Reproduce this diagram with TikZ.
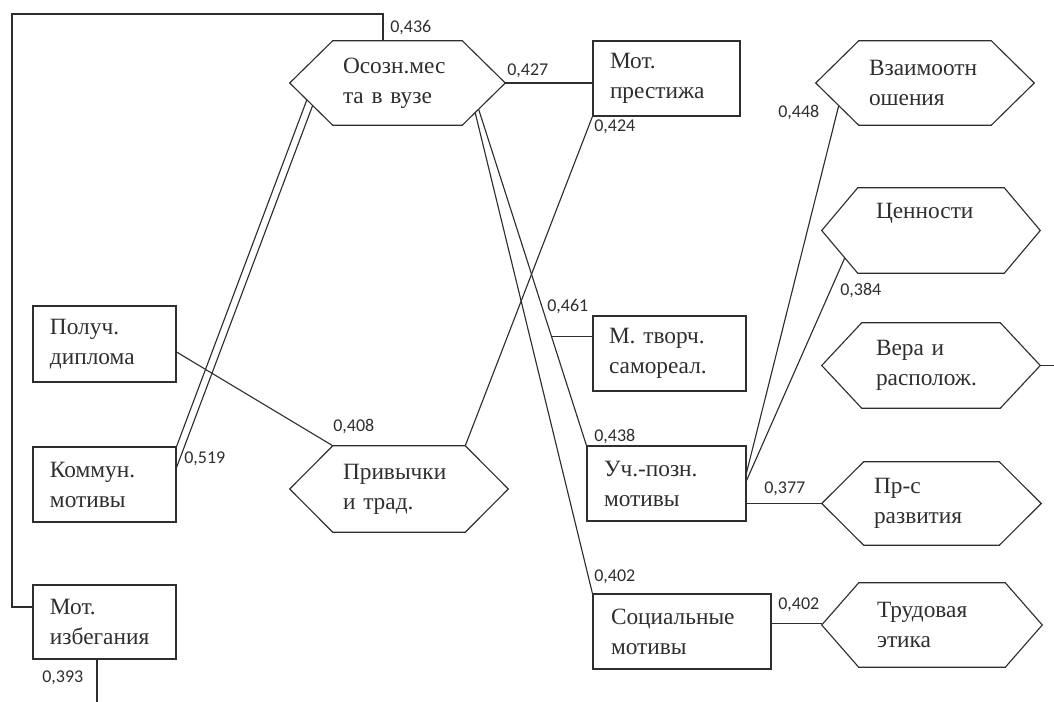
\documentclass[tikz,border=0pt]{standalone}
\usepackage{fontspec}
\setmainfont{Liberation Serif}
\newfontfamily\lblfont{Carlito}
\usetikzlibrary{calc}
\definecolor{ink}{gray}{0.18}

% Elongated hexagon drawn around an (invisible) bounding node;
% #1 = node name, #2 = horizontal inset of the slanted sides.
% Corner coordinates are named <node>-nw, -ne, -se, -sw.
\newcommand\hexpath[2]{%
  \draw[conn] ($(#1.north west)+(#2,0)$) coordinate (#1-nw)
    -- ($(#1.north east)+(-#2,0)$) coordinate (#1-ne)
    -- (#1.east)
    -- ($(#1.south east)+(-#2,0)$) coordinate (#1-se)
    -- ($(#1.south west)+(#2,0)$) coordinate (#1-sw)
    -- (#1.west) -- cycle;}

\begin{document}
\begin{tikzpicture}[x=0.75pt,y=-0.75pt,
  every node/.style={text=ink},
  conn/.style={draw=ink, line width=0.85pt, line join=miter},
  shapetext/.style={font=\fontsize{17.5}{22.5}\selectfont, align=left, inner sep=0pt},
  rbox/.style n args={3}{shapetext, draw=ink, line width=0.85pt, rectangle,
    minimum width=#1, minimum height=#2, text width=#3},
  hbox/.style n args={3}{shapetext, rectangle,
    minimum width=#1, minimum height=#2, text width=#3},
  lbl/.style={font=\lblfont\fontsize{13.5}{16}\selectfont, anchor=west, inner sep=0pt},
]
\useasboundingbox (0,0) rectangle (1054,702);

% ---- rectangles ----
\node[rbox={107.25pt}{57pt}{81.75pt}]     (poluch) at (104.5,344)   {Получ.\\диплома};
\node[rbox={107.25pt}{56.25pt}{81.75pt}]  (komm)   at (104.5,484.5) {Коммун.\\мотивы};
\node[rbox={107.25pt}{55.5pt}{81.75pt}]   (izbeg)  at (104.5,622)   {Мот.\\избегания};
\node[rbox={110.25pt}{56.25pt}{84.75pt}]  (prest)  at (666.5,78.5)  {Мот.\\престижа};
\node[rbox={114.75pt}{56.25pt}{90.75pt}]  (tvor)   at (669.5,353.5) {М. творч.\\самореал.};
\node[rbox={119.25pt}{56.25pt}{93.75pt}]  (uch)    at (666.5,483.5) {Уч.-позн.\\мотивы};
\node[rbox={133.5pt}{56.25pt}{106.5pt}]   (soc)    at (682,631.5)   {Социальные\\мотивы};

% ---- hexagons ----
\node[hbox={161.25pt}{63pt}{81.75pt}]   (osozn)   at (397.5,83)   {Осозн.мес\\та в вузе};
\node[hbox={163.5pt}{64.5pt}{84pt}]     (privych) at (399,489)    {Привычки\\и трад.};
\node[hbox={163.5pt}{63pt}{84pt}]       (vzaim)   at (925,83)     {Взаимоотн\\ошения};
\node[hbox={163.5pt}{63.75pt}{82.5pt}]  (tsen)    at (931,230.5)  {Ценности\\\strut};
\node[hbox={163.5pt}{63.75pt}{82.5pt}]  (vera)    at (931,365.5)  {Вера и\\располож.};
\node[hbox={164.25pt}{62.25pt}{86.25pt}] (razv)   at (931.5,503.5) {Пр-с\\развития};
\node[hbox={165pt}{63pt}{82.5pt}]       (trud)    at (932,625)    {Трудовая\\этика};

\hexpath{osozn}{43}
\hexpath{privych}{43}
\hexpath{vzaim}{43}
\hexpath{tsen}{36}
\hexpath{vera}{40}
\hexpath{razv}{42}
\hexpath{trud}{37}

% ---- free ends ----
\coordinate (loopTL) at (12,14);
\coordinate (loopTR) at (383,14);
\coordinate (veraout) at (1054,365.5);
\coordinate (izbout) at (97,702);

% ---- connectors ----
\draw[conn] ($(izbeg.west)+(0,-15)$) -| (loopTL) -- (loopTR) -- (loopTR |- osozn.north);
\draw[conn] (osozn.east) -- (osozn.east -| prest.west);
\draw[conn] (komm.north east) -- ($(osozn.west)!0.398!(osozn-sw)$);
\draw[conn] ($(komm.north east)+(0,21)$) -- ($(osozn.west)!0.533!(osozn-sw)$);
\draw[conn] ($(poluch.east)+(0,8)$) -- (privych-nw);
\draw[conn] (privych-ne) -- (prest.south west);
\draw[conn] ($(osozn-se)!0.38!(osozn.east)$) -- (uch.north west)
  coordinate[pos=0.677] (brtvor);
\draw[conn] (brtvor) -- (brtvor -| tvor.west);
\draw[conn] ($(osozn-se)!0.30!(osozn.east)$) -- (soc.north west);
\draw[conn] ($(uch.east)+(0,-11)$) -- ($(vzaim.west)!0.535!(vzaim-sw)$);
\draw[conn] ($(uch.east)+(0,-3)$) -- ($(tsen.west)!0.64!(tsen-sw)$);
\draw[conn] (razv.west -| uch.east) -- (razv.west);
\draw[conn] ($(trud.west -| soc.east)+(0,-1.5)$) -- ($(trud.west)+(0,-1.5)$);
\draw[conn] (vera.east) -- (veraout);
\draw[conn] (izbout |- izbeg.south) -- (izbout);

% ---- coefficients ----
\node[lbl] (c436)  at (390,28)  {0,436};
\node[lbl] (c427)  at (507,71)  {0,427};
\node[lbl] (c424)  at (594,127) {0,424};
\node[lbl] (c448)  at (778,113) {0,448};
\node[lbl] (c519)  at (184,459) {0,519};
\node[lbl] (c408)  at (333,427) {0,408};
\node[lbl] (c461)  at (547,307) {0,461};
\node[lbl] (c384)  at (840,291) {0,384};
\node[lbl] (c438)  at (594,437) {0,438};
\node[lbl] (c377)  at (764,489) {0,377};
\node[lbl] (c402a) at (594,577) {0,402};
\node[lbl] (c402b) at (778,605) {0,402};
\node[lbl] (c393)  at (42,678)  {0,393};
\end{tikzpicture}
\end{document}
